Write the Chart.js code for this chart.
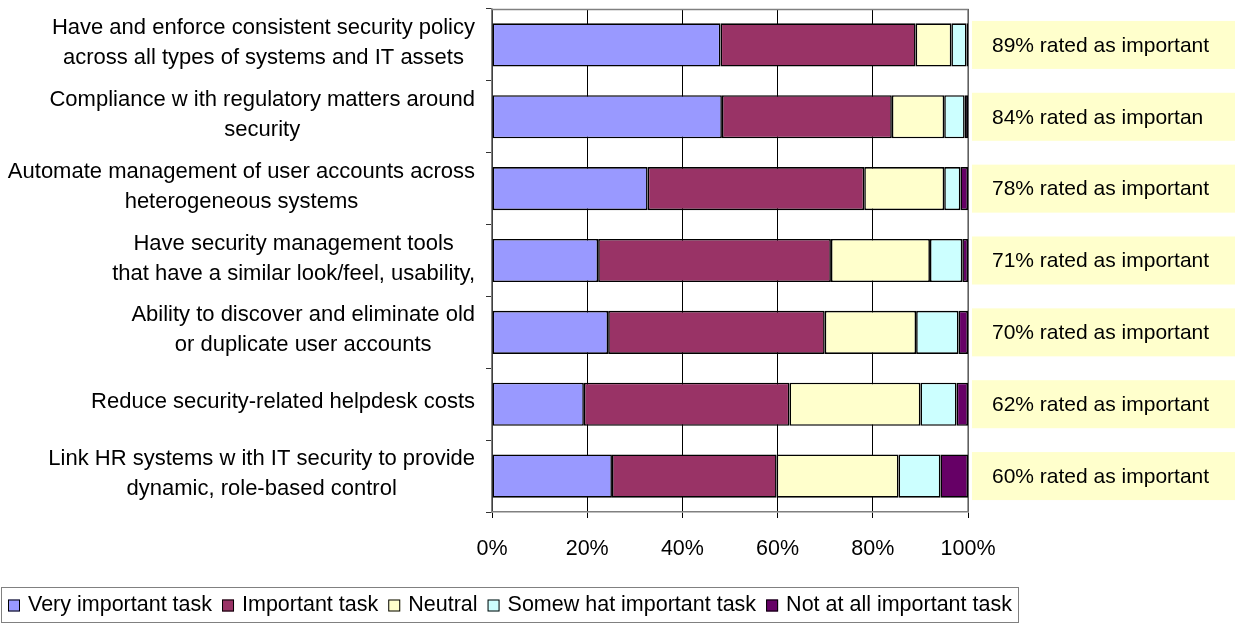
<!DOCTYPE html>
<html>
<head>
<meta charset="utf-8">
<script src="https://cdn.jsdelivr.net/npm/chart.js@4.4.1/dist/chart.umd.min.js"></script>
<style>
  html, body { margin: 0; padding: 0; background: #fff; }
  #wrap { width: 1236px; height: 626px; position: relative; }
</style>
</head>
<body>
<div id="wrap"><canvas id="chart"></canvas></div>
<script>
// categories, one array of lines per bar
const categories = [
  ['Have and enforce consistent security policy', 'across all types of systems and IT assets'],
  ['Compliance w ith regulatory matters around', 'security'],
  ['Automate management of user accounts across', 'heterogeneous systems'],
  ['Have security management tools', 'that have a similar look/feel, usability,'],
  ['Ability to discover and eliminate old', 'or duplicate user accounts'],
  ['Reduce security-related helpdesk costs'],
  ['Link HR systems w ith IT security to provide', 'dynamic, role-based control']
];

const seriesNames = ['Very important task', 'Important task', 'Neutral', 'Somew hat important task', 'Not at all important task'];

// percent of respondents
const veryImportant     = [48.0, 48.3, 32.7, 22.3, 24.4, 19.3, 25.2];
const important         = [41.0, 35.7, 45.5, 48.9, 45.5, 43.2, 34.6];
const neutral           = [7.5, 11.0, 16.8, 20.8, 19.2, 27.5, 25.6];
const somewhatImportant = [3.2, 4.3, 3.4, 6.8, 8.9, 7.6, 8.8];
const notImportant      = [0.3, 0.7, 1.6, 1.2, 2.0, 2.4, 5.8];

const ratedLabels = [
  '89% rated as important',
  '84% rated as importan',
  '78% rated as important',
  '71% rated as important',
  '70% rated as important',
  '62% rated as important',
  '60% rated as important'
];

const xTicks = [0, 20, 40, 60, 80, 100];

const seriesColors = ['#9999FF', '#993366', '#FFFFCC', '#CCFFFF', '#660066'];

const FONT_FAMILY = 'Arial, "Liberation Sans", sans-serif';
const FONT_SIZE = 21.5;
const FONT = FONT_SIZE + 'px ' + FONT_FAMILY;
const CAT_FONT = '22px ' + FONT_FAMILY;

// left-hand category text, lines centred, block right-aligned to the axis
const categoryLabels = {
  id: 'categoryLabels',
  afterDraw(chart) {
    const ctx = chart.ctx;
    const y = chart.scales.y;
    const right = chart.chartArea.left - 17;
    ctx.save();
    ctx.font = CAT_FONT;
    ctx.fillStyle = '#000';
    ctx.textAlign = 'center';
    ctx.textBaseline = 'middle';
    categories.forEach((lines, i) => {
      const cy = y.getPixelForValue(i) - 2;
      const w = Math.max(...lines.map(l => ctx.measureText(l).width));
      const cx = right - w / 2;
      lines.forEach((l, j) => {
        ctx.fillText(l, cx, cy + (j - (lines.length - 1) / 2) * 30);
      });
    });
    ctx.restore();
  }
};

// yellow callouts to the right of each bar
const ratedBoxes = {
  id: 'ratedBoxes',
  afterDraw(chart) {
    const ctx = chart.ctx;
    const y = chart.scales.y;
    const left = chart.chartArea.right + 4;
    ctx.save();
    ctx.font = '21px ' + FONT_FAMILY;
    ctx.textAlign = 'left';
    ctx.textBaseline = 'middle';
    ratedLabels.forEach((txt, i) => {
      const cy = y.getPixelForValue(i);
      ctx.fillStyle = '#FFFFCC';
      ctx.fillRect(left, cy - 24, chart.width - left - 1, 48);
      ctx.fillStyle = '#000';
      ctx.fillText(txt, left + 20, cy + 1);
    });
    ctx.restore();
  }
};

// grey frame round the plot area
const plotFrame = {
  id: 'plotFrame',
  beforeDatasetsDraw(chart) {
    const { left, top, right, bottom } = chart.chartArea;
    const ctx = chart.ctx;
    ctx.save();
    ctx.strokeStyle = '#808080';
    ctx.lineWidth = 1.5;
    ctx.beginPath();
    ctx.moveTo(left, top + 0.5);
    ctx.lineTo(right, top + 0.5);
    ctx.lineTo(right, bottom);
    ctx.stroke();
    ctx.restore();
  }
};

// boxed legend along the bottom
const boxedLegend = {
  id: 'boxedLegend',
  afterDraw(chart) {
    const ctx = chart.ctx;
    const top = 587, bottom = 622;
    const cy = (top + bottom) / 2 + 1;
    ctx.save();
    ctx.font = FONT;
    ctx.textBaseline = 'middle';
    ctx.textAlign = 'left';
    let x = 8;
    chart.data.datasets.forEach((ds) => {
      ctx.fillStyle = ds.backgroundColor;
      ctx.fillRect(x, cy - 6, 12, 12);
      ctx.strokeStyle = '#000';
      ctx.lineWidth = 1;
      ctx.strokeRect(x + 0.5, cy - 5.5, 11, 11);
      x += 20;
      ctx.fillStyle = '#000';
      ctx.fillText(ds.label, x, cy);
      x += ctx.measureText(ds.label).width + 10;
    });
    ctx.strokeStyle = '#808080';
    ctx.lineWidth = 1;
    ctx.strokeRect(1.5, top + 0.5, 1017, bottom - top);
    ctx.restore();
  }
};

const seriesValues = [veryImportant, important, neutral, somewhatImportant, notImportant];

new Chart(document.getElementById('chart'), {
  type: 'bar',
  data: {
    labels: categories,
    datasets: seriesNames.map((name, i) => ({
      label: name,
      data: seriesValues[i],
      backgroundColor: seriesColors[i],
      borderColor: '#000',
      borderWidth: 1.6,
      borderSkipped: false,
      categoryPercentage: 0.6,
      barPercentage: 1
    }))
  },
  options: {
    indexAxis: 'y',
    responsive: true,
    maintainAspectRatio: false,
    animation: false,
    layout: { padding: { top: 9, right: 268, bottom: 64, left: 0 } },
    plugins: {
      legend: { display: false },
      tooltip: { enabled: false }
    },
    scales: {
      x: {
        type: 'linear',
        stacked: true,
        min: 0,
        max: 100,
        afterBuildTicks: (scale) => { scale.ticks = xTicks.map(v => ({ value: v })); },
        afterFit: (scale) => { scale.height = 50; },
        ticks: {
          color: '#000',
          padding: 18,
          font: { family: FONT_FAMILY, size: FONT_SIZE },
          callback: (v) => v + '%'
        },
        grid: { color: '#000', lineWidth: 1, tickLength: 6 },
        border: { color: '#808080', width: 1.5 }
      },
      y: {
        stacked: true,
        offset: true,
        afterFit: (scale) => { scale.width = 492; },
        ticks: { display: false },
        grid: { offset: true, drawOnChartArea: false, tickLength: 6, color: '#333' },
        border: { color: '#808080', width: 1.5 }
      }
    }
  },
  plugins: [plotFrame, categoryLabels, ratedBoxes, boxedLegend]
});
</script>
</body>
</html>
